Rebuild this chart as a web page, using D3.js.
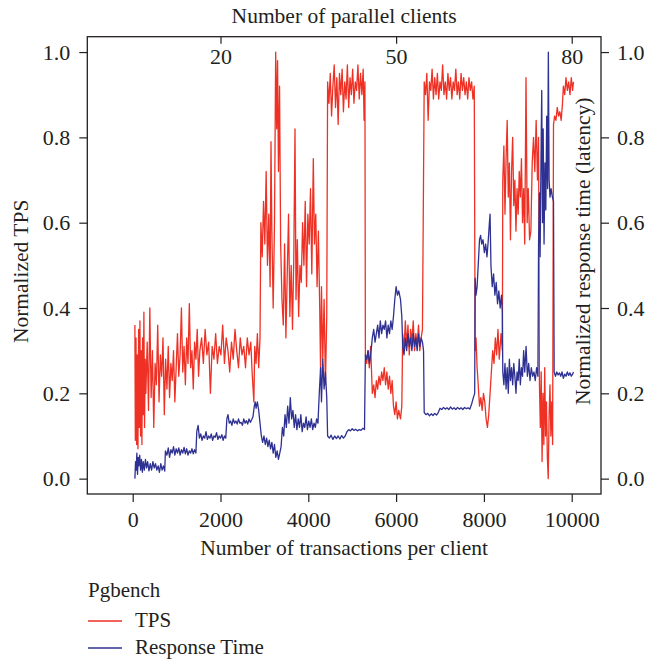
<!DOCTYPE html>
<html>
<head>
<meta charset="utf-8">
<script src="https://cdn.jsdelivr.net/npm/d3@7"></script>
<style>
  body { margin: 0; background: #fff; }
  svg text { font-family: "Liberation Serif", "DejaVu Serif", serif; fill: #231f20; }
</style>
</head>
<body>
<script>
// values, [transactions per client, normalized value]
var tps = [
  [50,0.36],[60,0.09],[75,0.33],[90,0.08],[105,0.29],[120,0.07],[135,0.35],[150,0.12],[165,0.37],[180,0.1],
  [195,0.3],[210,0.08],[225,0.33],[240,0.15],[255,0.39],[270,0.12],[285,0.28],
  [300,0.2],[330,0.32],[360,0.16],[390,0.4],[420,0.19],[450,0.3],[480,0.12],[510,0.27],[540,0.22],
  [570,0.36],[600,0.18],[630,0.29],[660,0.24],[690,0.33],[720,0.15],[750,0.28],[780,0.21],[810,0.31],
  [840,0.19],[870,0.27],[900,0.23],[930,0.3],[960,0.18],[990,0.26],
  [1020,0.34],[1050,0.24],[1080,0.29],[1110,0.4],[1140,0.25],[1170,0.31],[1200,0.22],[1230,0.33],
  [1260,0.27],[1290,0.41],[1320,0.26],[1350,0.3],[1380,0.21],[1410,0.32],[1440,0.28],[1470,0.35],
  [1500,0.24],[1530,0.3],
  [1570,0.33],[1610,0.27],[1650,0.35],[1690,0.29],[1730,0.32],[1770,0.2],[1810,0.31],[1850,0.28],
  [1890,0.34],[1930,0.27],[1970,0.31],[2010,0.29],[2050,0.36],[2090,0.27],[2130,0.33],[2170,0.3],
  [2210,0.25],[2250,0.32],[2290,0.28],[2330,0.35],[2370,0.3],[2410,0.26],[2450,0.33],[2490,0.29],
  [2530,0.31],[2570,0.26],[2610,0.33],[2650,0.29],[2690,0.32],[2720,0.25],[2760,0.18],[2780,0.31],
  [2810,0.27],[2840,0.34],[2870,0.26],[2900,0.33],
  [2920,0.6],[2950,0.52],[2980,0.65],[3010,0.55],[3040,0.72],[3070,0.5],[3100,0.62],[3130,0.45],
  [3150,0.79],[3170,0.58],[3200,0.4],[3230,0.6],[3257,1.0],[3280,0.82],[3300,0.98],[3320,0.72],
  [3345,0.92],[3370,0.55],[3400,0.42],[3430,0.36],[3460,0.55],[3490,0.33],[3520,0.48],[3550,0.62],
  [3580,0.38],[3610,0.5],[3640,0.35],[3670,0.52],[3697,0.82],[3720,0.42],[3750,0.56],[3780,0.38],
  [3810,0.5],[3840,0.46],[3870,0.6],[3900,0.5],[3930,0.65],[3960,0.45],[3990,0.62],[4020,0.55],
  [4050,0.68],[4080,0.48],[4114,0.75],[4140,0.55],[4170,0.62],[4200,0.45],[4230,0.58],[4260,0.4],
  [4280,0.25],[4300,0.45],[4330,0.28],[4360,0.42],[4390,0.22],[4420,0.38],
  [4440,0.93],[4470,0.88],[4500,0.95],[4530,0.85],[4560,0.92],[4590,0.97],[4620,0.87],[4650,0.94],
  [4680,0.83],[4710,0.95],[4740,0.9],[4770,0.96],[4800,0.86],[4830,0.93],[4860,0.89],[4890,0.97],
  [4920,0.87],[4950,0.94],[4980,0.9],[5010,0.96],[5040,0.88],[5070,0.93],[5100,0.91],[5130,0.97],
  [5160,0.89],[5190,0.95],[5220,0.9],[5250,0.96],[5270,0.84],[5290,0.93],
  [5300,0.29],[5330,0.27],[5360,0.3],[5390,0.26],[5420,0.31],[5458,0.2],[5490,0.22],[5520,0.19],
  [5550,0.23],[5580,0.21],[5610,0.24],[5640,0.22],[5670,0.25],[5700,0.23],[5730,0.26],[5760,0.22],
  [5790,0.25],[5820,0.21],[5850,0.24],[5880,0.2],[5910,0.23],[5940,0.17],[5970,0.15],[6000,0.18],
  [6030,0.14],[6060,0.16],[6100,0.14],[6130,0.17],
  [6150,0.34],[6180,0.3],[6210,0.37],[6240,0.31],[6270,0.36],[6300,0.29],[6330,0.35],[6360,0.32],
  [6390,0.37],[6420,0.3],[6450,0.34],[6480,0.31],[6510,0.36],[6540,0.3],[6570,0.33],[6600,0.35],
  [6640,0.93],[6670,0.9],[6700,0.95],[6730,0.84],[6760,0.93],[6790,0.91],[6820,0.96],[6850,0.89],
  [6880,0.94],[6910,0.9],[6940,0.95],[6970,0.89],[7000,0.93],[7030,0.91],[7060,0.97],[7090,0.9],
  [7120,0.93],[7150,0.89],[7180,0.95],[7210,0.91],[7240,0.94],[7270,0.89],[7300,0.93],[7330,0.91],
  [7360,0.96],[7390,0.9],[7420,0.93],[7450,0.89],[7480,0.95],[7510,0.91],[7540,0.94],[7570,0.9],
  [7600,0.93],[7630,0.89],[7660,0.94],[7690,0.91],[7720,0.93],[7750,0.89],[7780,0.92],
  [7800,0.3],[7820,0.33],[7845,0.26],[7870,0.22],[7900,0.17],[7930,0.19],[7960,0.16],[7990,0.2],
  [8020,0.18],[8050,0.14],[8080,0.12],[8110,0.15],[8140,0.2],[8170,0.25],[8200,0.3],[8230,0.27],
  [8260,0.33],[8290,0.29],[8320,0.35],[8350,0.28],[8390,0.34],[8420,0.3],
  [8430,0.7],[8455,0.78],[8480,0.62],[8505,0.75],[8530,0.84],[8555,0.66],[8580,0.74],[8605,0.56],
  [8630,0.72],[8655,0.8],[8680,0.64],[8705,0.7],[8730,0.58],[8755,0.68],[8780,0.62],[8805,0.72],
  [8830,0.66],[8855,0.75],[8880,0.6],[8905,0.68],[8930,0.55],[8959,0.94],[8985,0.6],[9010,0.68],
  [9040,0.56],[9070,0.58],[9100,0.74],[9130,0.8],[9160,0.72],[9190,0.84],[9220,0.7],[9245,0.8],
  [9265,0.22],[9285,0.12],[9305,0.25],[9325,0.04],[9345,0.2],[9365,0.08],[9385,0.26],[9405,0.1],
  [9425,0.18],[9445,0.05],[9465,0.0],[9485,0.15],[9505,0.22],[9525,0.1],[9545,0.18],[9565,0.08],
  [9585,0.83],[9610,0.85],[9640,0.84],[9670,0.87],[9700,0.85],[9730,0.86],[9760,0.84],[9790,0.88],
  [9810,0.92],[9840,0.9],[9870,0.94],[9900,0.91],[9930,0.93],[9960,0.9],[9990,0.94],[10020,0.91],
  [10040,0.93]
];

var responseTime = [
  [50,0.0],[65,0.04],[80,0.02],[95,0.06],[110,0.01],[125,0.05],[140,0.03],[160,0.055],[180,0.02],
  [200,0.045],[220,0.015],[240,0.04],[265,0.02],[290,0.045],[315,0.025],[340,0.04],[370,0.018],
  [400,0.035],[430,0.02],[460,0.04],[490,0.025],[520,0.035],[550,0.02],[580,0.03],[610,0.015],
  [640,0.035],[670,0.02],[700,0.03],[730,0.018],
  [745,0.065],[780,0.055],[810,0.072],[840,0.05],[870,0.068],[900,0.06],[930,0.075],[960,0.055],
  [990,0.07],[1020,0.06],[1050,0.072],[1080,0.055],[1110,0.068],[1140,0.06],[1170,0.073],[1200,0.058],
  [1230,0.07],[1260,0.055],[1290,0.065],[1320,0.06],[1350,0.07],[1380,0.058],[1410,0.068],[1440,0.06],
  [1460,0.11],[1490,0.125],[1520,0.095],[1550,0.105],[1580,0.09],[1610,0.1],[1640,0.095],[1670,0.11],
  [1700,0.092],[1730,0.1],[1760,0.095],[1790,0.105],[1820,0.09],[1850,0.1],[1880,0.097],[1910,0.108],
  [1940,0.092],[1970,0.1],[2000,0.095],[2030,0.103],[2060,0.09],[2090,0.1],[2120,0.095],
  [2145,0.14],[2170,0.15],[2200,0.13],[2230,0.135],[2260,0.125],[2290,0.14],[2320,0.13],[2350,0.135],
  [2380,0.128],[2410,0.14],[2440,0.13],[2470,0.132],[2500,0.125],[2530,0.14],[2560,0.13],[2590,0.136],
  [2620,0.128],[2650,0.14],[2680,0.132],[2710,0.138],[2740,0.145],[2770,0.17],[2790,0.18],[2810,0.165],
  [2840,0.18],[2870,0.16],[2900,0.13],[2930,0.1],[2960,0.085],[2990,0.1],[3020,0.08],[3050,0.095],
  [3080,0.075],[3110,0.09],[3140,0.07],[3170,0.085],[3200,0.06],[3230,0.08],[3260,0.05],[3290,0.065],
  [3320,0.045],[3350,0.06],[3380,0.075],[3410,0.12],[3440,0.1],[3470,0.15],[3500,0.12],[3530,0.17],
  [3560,0.13],[3590,0.19],[3620,0.14],[3650,0.16],[3680,0.12],[3710,0.15],[3740,0.115],[3770,0.14],
  [3800,0.12],[3830,0.15],[3860,0.11],[3890,0.13],[3920,0.12],[3950,0.145],[3980,0.115],[4010,0.135],
  [4040,0.12],[4070,0.14],[4100,0.115],[4130,0.13],[4160,0.12],[4190,0.14],[4220,0.13],[4250,0.2],
  [4280,0.26],[4300,0.18],[4330,0.28],[4360,0.21],[4390,0.25],[4420,0.19],
  [4440,0.1],[4480,0.095],[4520,0.102],[4560,0.092],[4600,0.1],[4640,0.094],[4680,0.1],[4720,0.093],
  [4760,0.101],[4800,0.095],[4840,0.1],[4880,0.11],[4920,0.115],[4960,0.112],[5000,0.117],[5040,0.113],
  [5080,0.116],[5120,0.112],[5160,0.115],[5200,0.113],[5240,0.118],[5280,0.115],
  [5300,0.29],[5330,0.28],[5360,0.3],[5390,0.27],[5420,0.29],[5458,0.33],[5490,0.35],[5520,0.32],
  [5550,0.34],[5580,0.36],[5610,0.33],[5640,0.37],[5670,0.34],[5700,0.36],[5730,0.35],[5760,0.37],
  [5790,0.33],[5820,0.36],[5850,0.34],[5880,0.37],[5910,0.35],[5940,0.38],[5970,0.42],[6000,0.45],
  [6030,0.43],[6060,0.44],[6100,0.42],[6130,0.38],
  [6150,0.31],[6180,0.29],[6210,0.33],[6240,0.3],[6270,0.34],[6300,0.31],[6330,0.33],[6360,0.3],
  [6390,0.34],[6420,0.31],[6450,0.33],[6480,0.3],[6510,0.34],[6540,0.31],[6570,0.33],[6600,0.32],
  [6625,0.3],
  [6640,0.155],[6680,0.15],[6720,0.153],[6760,0.147],[6800,0.152],[6840,0.148],[6880,0.153],[6920,0.149],
  [6960,0.155],[7000,0.165],[7040,0.162],[7080,0.167],[7120,0.163],[7160,0.166],[7200,0.162],[7240,0.168],
  [7280,0.163],[7320,0.166],[7360,0.162],[7400,0.167],[7440,0.163],[7480,0.166],[7520,0.162],[7560,0.167],
  [7600,0.164],[7640,0.166],[7680,0.163],[7720,0.175],[7760,0.19],[7790,0.2],
  [7800,0.47],[7820,0.43],[7845,0.45],[7870,0.5],[7900,0.56],[7925,0.57],[7950,0.55],[7980,0.56],
  [8010,0.53],[8040,0.55],[8070,0.52],[8100,0.56],[8125,0.6],[8140,0.62],[8160,0.5],[8190,0.45],
  [8220,0.48],[8250,0.43],[8280,0.46],[8310,0.41],[8340,0.44],[8370,0.4],[8400,0.43],[8420,0.39],
  [8430,0.25],[8455,0.22],[8480,0.27],[8505,0.21],[8530,0.26],[8555,0.2],[8580,0.28],[8605,0.23],
  [8630,0.26],[8655,0.22],[8680,0.27],[8705,0.24],[8730,0.2],[8755,0.25],[8780,0.23],[8805,0.28],
  [8830,0.22],[8855,0.26],[8880,0.24],[8905,0.3],[8930,0.25],[8960,0.31],[8990,0.24],[9020,0.27],
  [9050,0.23],[9080,0.26],[9110,0.24],[9140,0.25],[9170,0.23],[9200,0.26],[9230,0.24],
  [9245,0.55],[9265,0.67],[9280,0.52],[9300,0.75],[9317,0.91],[9335,0.6],[9350,0.82],[9370,0.55],
  [9390,0.74],[9410,0.63],[9430,0.85],[9450,0.68],[9468,1.0],[9485,0.7],[9505,0.66],[9530,0.68],
  [9560,0.66],[9585,0.65],
  [9600,0.25],[9630,0.24],[9660,0.25],[9690,0.243],[9720,0.248],[9750,0.24],[9780,0.25],[9810,0.235],
  [9840,0.245],[9870,0.24],[9900,0.25],[9930,0.242],[9960,0.248],[9990,0.24],[10020,0.245],[10040,0.25]
];

var xTicks = [0, 2000, 4000, 6000, 8000, 10000];
var yTicks = [0, 0.2, 0.4, 0.6, 0.8, 1.0];
var clientTicks = [2000, 6000, 10000];
var clientLabels = ["20", "50", "80"];

var width = 646, height = 661;

var svg = d3.select("body").append("svg")
  .attr("width", width)
  .attr("height", height);

var x = d3.scaleLinear().domain([-1034, 10667]).range([87.3, 601]);
var y = d3.scaleLinear().domain([-0.036, 1.036]).range([494, 36.7]);

var tickFont = 22, titleFont = 21.5, legendFont = 21;

// frame
svg.append("rect")
  .attr("x", x.range()[0]).attr("y", y.range()[1])
  .attr("width", x.range()[1] - x.range()[0])
  .attr("height", y.range()[0] - y.range()[1])
  .attr("fill", "none").attr("stroke", "#231f20").attr("stroke-width", 1.3);

function styleAxis(g) {
  g.select(".domain").remove();
  g.selectAll(".tick line").attr("stroke", "#231f20").attr("stroke-width", 1.2);
  g.selectAll(".tick text")
    .style("font-size", tickFont + "px")
    .style("font-family", '"Liberation Serif", serif')
    .attr("fill", "#231f20");
}

svg.append("g")
  .attr("transform", "translate(0," + y.range()[0] + ")")
  .call(d3.axisBottom(x).tickValues(xTicks).tickSize(8).tickPadding(9).tickFormat(d3.format("d")))
  .call(styleAxis);

svg.append("g")
  .attr("transform", "translate(" + x.range()[0] + ",0)")
  .call(d3.axisLeft(y).tickValues(yTicks).tickSize(8).tickPadding(9).tickFormat(d3.format(".1f")))
  .call(styleAxis);

svg.append("g")
  .attr("transform", "translate(" + x.range()[1] + ",0)")
  .call(d3.axisRight(y).tickValues(yTicks).tickSize(8).tickPadding(8).tickFormat(d3.format(".1f")))
  .call(styleAxis);

// parallel clients axis, ticks pointing into the plot
svg.append("g")
  .attr("transform", "translate(0," + y.range()[1] + ")")
  .call(d3.axisBottom(x).tickValues(clientTicks).tickSize(7).tickPadding(5)
    .tickFormat(function (d, i) { return clientLabels[i]; }))
  .call(styleAxis);

var line = d3.line()
  .x(function (d) { return x(d[0]); })
  .y(function (d) { return y(d[1]); });

svg.append("path")
  .datum(tps)
  .attr("d", line)
  .attr("fill", "none")
  .attr("stroke", "#ee3124")
  .attr("stroke-width", 1.3)
  .attr("stroke-linejoin", "round");

svg.append("path")
  .datum(responseTime)
  .attr("d", line)
  .attr("fill", "none")
  .attr("stroke", "#2e3192")
  .attr("stroke-width", 1.3)
  .attr("stroke-linejoin", "round");

var midX = (x.range()[0] + x.range()[1]) / 2;
var midY = (y.range()[0] + y.range()[1]) / 2;

svg.append("text")
  .attr("x", midX).attr("y", 23)
  .attr("text-anchor", "middle")
  .style("font-size", titleFont + "px")
  .text("Number of parallel clients");

svg.append("text")
  .attr("x", midX).attr("y", 555)
  .attr("text-anchor", "middle")
  .style("font-size", titleFont + "px")
  .text("Number of transactions per client");

svg.append("text")
  .attr("transform", "translate(28," + (midY + 6) + ") rotate(-90)")
  .attr("text-anchor", "middle")
  .style("font-size", titleFont + "px")
  .text("Normalized TPS");

svg.append("text")
  .attr("transform", "translate(590," + (midY - 14) + ") rotate(-90)")
  .attr("text-anchor", "middle")
  .style("font-size", titleFont + "px")
  .text("Normalized response time (latency)");

// legend
var legend = svg.append("g").attr("transform", "translate(88,0)");
legend.append("text").attr("x", 0).attr("y", 597)
  .style("font-size", legendFont + "px").text("Pgbench");

var legendItems = [
  { name: "TPS", color: "#ee3124" },
  { name: "Response Time", color: "#2e3192" }
];
legendItems.forEach(function (d, i) {
  var ly = 621 + i * 27;
  legend.append("line")
    .attr("x1", 0).attr("x2", 34).attr("y1", ly).attr("y2", ly)
    .attr("stroke", d.color).attr("stroke-width", 1.3);
  legend.append("text")
    .attr("x", 47).attr("y", ly + 6)
    .style("font-size", legendFont + "px")
    .text(d.name);
});
</script>
</body>
</html>
